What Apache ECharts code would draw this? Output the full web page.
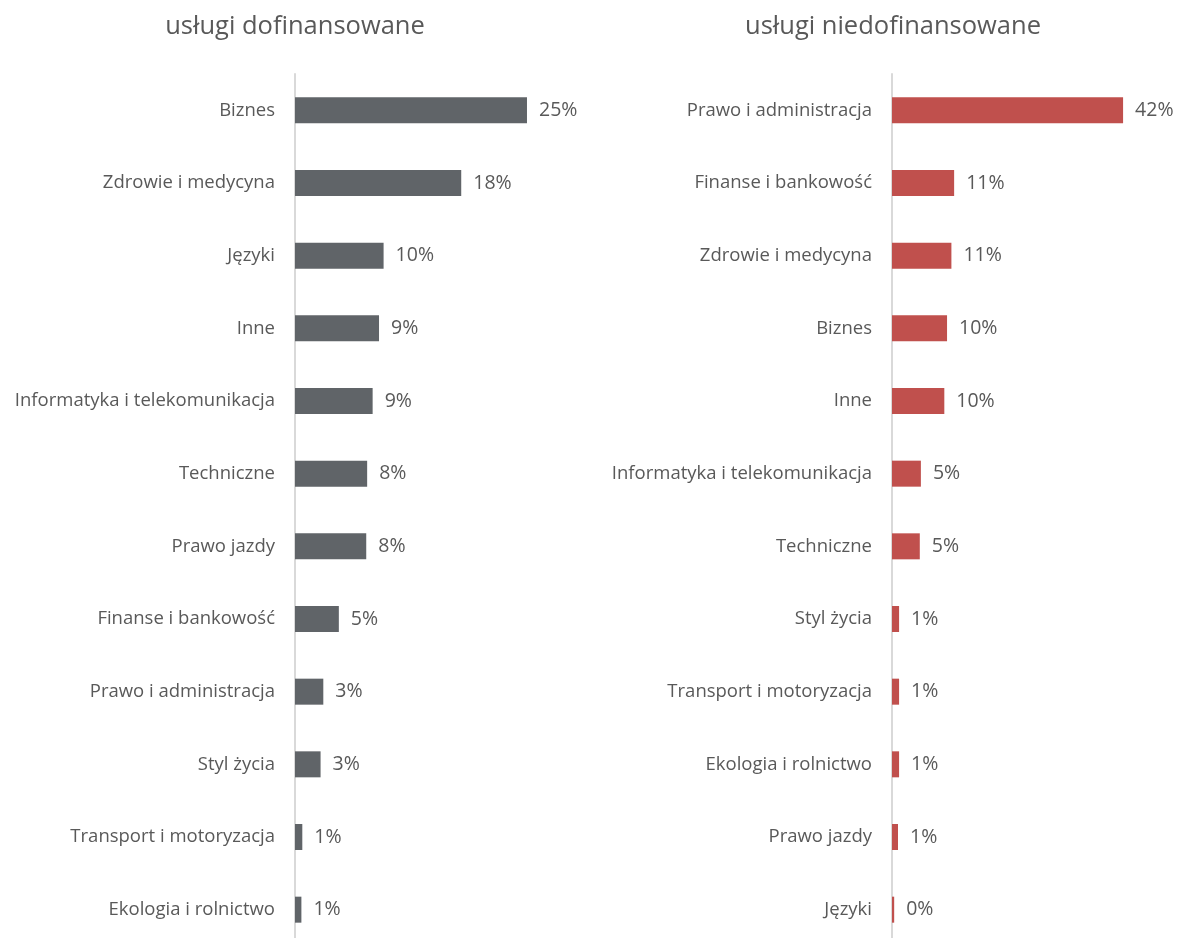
<!DOCTYPE html>
<html>
<head>
<meta charset="utf-8">
<script src="https://cdn.jsdelivr.net/npm/echarts@6/dist/echarts.min.js"></script>
<style>
  html, body { margin: 0; padding: 0; background: #fff; }
  #chart { width: 1178px; height: 938px; }
</style>
</head>
<body>
<div id="chart"></div>
<script>
const leftTitle = 'usługi dofinansowane'
const leftCategories = ['Biznes', 'Zdrowie i medycyna', 'Języki', 'Inne', 'Informatyka i telekomunikacja', 'Techniczne', 'Prawo jazdy', 'Finanse i bankowość', 'Prawo i administracja', 'Styl życia', 'Transport i motoryzacja', 'Ekologia i rolnictwo']
const leftValues = [25.4, 18.2, 9.7, 9.2, 8.5, 7.9, 7.8, 4.8, 3.1, 2.8, 0.8, 0.7]

const rightTitle = 'usługi niedofinansowane'
const rightCategories = ['Prawo i administracja', 'Finanse i bankowość', 'Zdrowie i medycyna', 'Biznes', 'Inne', 'Informatyka i telekomunikacja', 'Techniczne', 'Styl życia', 'Transport i motoryzacja', 'Ekologia i rolnictwo', 'Prawo jazdy', 'Języki']
const rightValues = [42.4, 11.4, 10.9, 10.1, 9.6, 5.3, 5.1, 1.3, 1.3, 1.3, 1.1, 0.4]

const FONT = '"Open Sans", Lato, sans-serif'
const TEXT = '#595959'

function xAxisFor(gridIndex, max) {
  return {
    gridIndex,
    type: 'value',
    min: 0,
    max,
    show: false,
  }
}

function yAxisFor(gridIndex, categories) {
  return {
    gridIndex,
    type: 'category',
    inverse: true,
    data: categories,
    axisTick: { show: false },
    axisLine: { show: true, lineStyle: { color: '#d9d9d9', width: 2 } },
    axisLabel: { color: TEXT, fontSize: 18.5, fontFamily: FONT, margin: 20 },
  }
}

function barSeries(index, values, color) {
  return {
    type: 'bar',
    xAxisIndex: index,
    yAxisIndex: index,
    data: values,
    barWidth: 26,
    itemStyle: { color },
    label: {
      show: true,
      position: 'right',
      distance: 12,
      color: TEXT,
      fontSize: 19.5,
      fontFamily: FONT,
      formatter: (p) => Math.round(p.value) + '%',
    },
  }
}

function titleFor(text, x) {
  return {
    text,
    left: x,
    top: 14,
    padding: 0,
    textAlign: 'center',
    textStyle: { color: TEXT, fontSize: 25.5, fontWeight: 'normal', fontFamily: FONT },
  }
}

const chart = echarts.init(document.getElementById('chart'), null, { renderer: 'canvas' })
chart.setOption({
  animation: false,
  title: [titleFor(leftTitle, 295), titleFor(rightTitle, 893)],
  grid: [
    { left: 295, top: 74, width: 274, height: 872, outerBoundsMode: 'none' },
    { left: 892, top: 74, width: 272.5, height: 872, outerBoundsMode: 'none' },
  ],
  xAxis: [xAxisFor(0, 30), xAxisFor(1, 50)],
  yAxis: [yAxisFor(0, leftCategories), yAxisFor(1, rightCategories)],
  series: [
    barSeries(0, leftValues, '#606468'),
    barSeries(1, rightValues, '#c0504d'),
  ],
})
</script>
</body>
</html>
